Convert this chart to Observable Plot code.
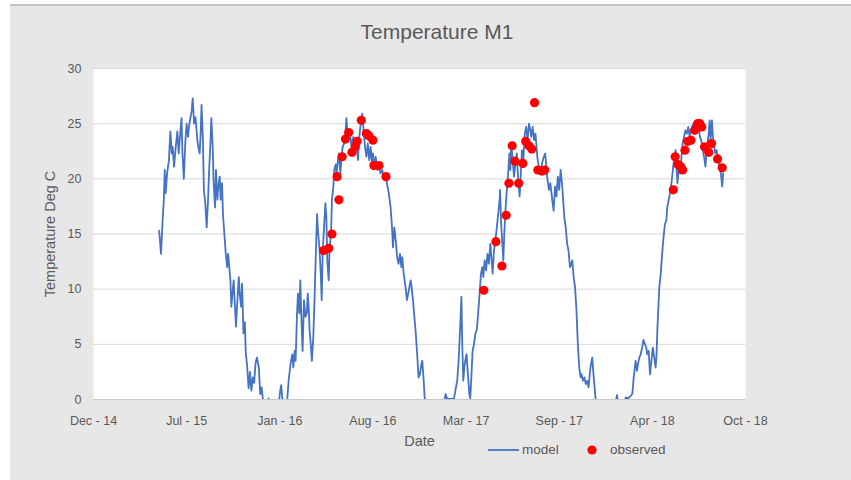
<!DOCTYPE html>
<html>
<head>
<meta charset="utf-8">
<script src="https://cdn.jsdelivr.net/npm/d3@7"></script>
<script src="https://cdn.jsdelivr.net/npm/@observablehq/plot@0.6"></script>
<style>
  body { margin: 0; background: #ffffff; font-family: "Liberation Sans", Arial, sans-serif; }
  #wrap { position: relative; width: 851px; height: 480px; overflow: hidden; }
  #panel { position: absolute; left: 10px; top: 4px; right: 0; bottom: 0; background: #e7e7e7; border-top: 2px solid #c4c4c4; }
  #chart { position: absolute; left: 0; top: 0; }
  #title { position: absolute; left: 0; width: 874px; top: 20px; text-align: center; font-size: 21px; color: #595959; }
  .leg { position: absolute; font-size: 13.5px; color: #595959; line-height: 16px; }
</style>
</head>
<body>
<div id="wrap">
  <div id="panel"></div>
  <div id="chart"></div>
  <div id="title"></div>
  <div id="legend"></div>
</div>
<script>
// ---- text ----
const chartTitle = "Temperature M1";
const yAxisTitle = "Temperature Deg C";
const xAxisTitle = "Date";
const seriesNames = ["model", "observed"];

// ---- axis ticks (dates as Excel day serials) ----
const xTickSerials = [42000, 42200, 42400, 42600, 42800, 43000, 43200, 43400];
const xTickLabels = ["Dec - 14", "Jul - 15", "Jan - 16", "Aug - 16", "Mar - 17", "Sep - 17", "Apr - 18", "Oct - 18"];
const yTicks = [0, 5, 10, 15, 20, 25, 30];

// ---- model series (date as Excel day serial, temperature in deg C) ----
const modelSerial = [
  42141, 42145, 42148, 42151, 42153, 42155, 42158, 42162, 42165, 42168, 42170, 42173, 42176, 42180, 42183, 42185,
  42189, 42191, 42194, 42197, 42200, 42203, 42205, 42208, 42211, 42213, 42216, 42219, 42223, 42225, 42228, 42230,
  42232, 42235, 42237, 42240, 42243, 42246, 42248, 42251, 42253, 42256, 42258, 42261, 42263, 42266, 42268, 42271,
  42273, 42276, 42278, 42281, 42284, 42287, 42289, 42291, 42294, 42296, 42299, 42301, 42303, 42306, 42309, 42312,
  42314, 42317, 42319, 42322, 42325, 42327, 42330, 42333, 42336, 42339, 42342, 42345, 42348, 42351, 42355, 42358,
  42361, 42364, 42368, 42373, 42376, 42380, 42391, 42398, 42401, 42403, 42405, 42408, 42412, 42416, 42419, 42423,
  42427, 42429, 42432, 42434, 42437, 42439, 42442, 42444, 42447, 42449, 42452, 42455, 42458, 42460, 42462, 42464,
  42467, 42469, 42472, 42475, 42478, 42480, 42482, 42485, 42488, 42490, 42492, 42495, 42498, 42500, 42502, 42505,
  42507, 42510, 42512, 42515, 42517, 42520, 42522, 42525, 42527, 42530, 42532, 42535, 42538, 42541, 42543, 42546,
  42550, 42554, 42558, 42560, 42564, 42568, 42570, 42573, 42577, 42580, 42583, 42586, 42589, 42592, 42595, 42598,
  42600, 42603, 42606, 42609, 42613, 42616, 42620, 42623, 42627, 42630, 42634, 42638, 42641, 42643, 42646, 42649,
  42652, 42655, 42658, 42661, 42663, 42666, 42670, 42673, 42677, 42681, 42683, 42686, 42689, 42692, 42695, 42698,
  42701, 42704, 42706, 42709, 42711, 42714, 42722, 42740, 42752, 42756, 42759, 42762, 42767, 42774, 42777, 42781,
  42784, 42788, 42790, 42792, 42794, 42797, 42801, 42804, 42807, 42809, 42812, 42814, 42817, 42820, 42823, 42826,
  42829, 42832, 42835, 42837, 42840, 42843, 42846, 42849, 42852, 42855, 42857, 42860, 42863, 42866, 42869, 42872,
  42873, 42875, 42877, 42880, 42882, 42885, 42887, 42890, 42893, 42895, 42897, 42900, 42903, 42906, 42909, 42912,
  42915, 42918, 42920, 42923, 42926, 42929, 42932, 42935, 42938, 42940, 42943, 42946, 42949, 42953, 42956, 42960,
  42963, 42967, 42970, 42974, 42978, 42981, 42985, 42988, 42991, 42994, 42997, 43000, 43003, 43006, 43008, 43011,
  43014, 43017, 43020, 43023, 43026, 43028, 43031, 43034, 43037, 43040, 43043, 43046, 43048, 43051, 43054, 43057,
  43060, 43063, 43067, 43071, 43073, 43076, 43079, 43090, 43118, 43124, 43128, 43140, 43143, 43147, 43151, 43157,
  43160, 43164, 43167, 43169, 43172, 43175, 43178, 43181, 43184, 43187, 43189, 43192, 43195, 43198, 43201, 43204,
  43207, 43209, 43211, 43213, 43215, 43218, 43221, 43224, 43227, 43230, 43232, 43235, 43238, 43241, 43244, 43247,
  43250, 43252, 43254, 43257, 43260, 43262, 43265, 43268, 43271, 43274, 43277, 43280, 43282, 43285, 43288, 43291,
  43294, 43297, 43300, 43302, 43305, 43308, 43311, 43314, 43316, 43318, 43321, 43323, 43325, 43328, 43330, 43333,
  43335, 43338, 43341, 43344, 43347, 43350, 43352
];
const modelTemp = [
  15.3, 13.2, 15.9, 18.1, 20.8, 18.7, 20.5, 21.7, 24.3, 22.3, 22.9, 21.1, 22.6, 24.3, 22.3, 23.5,
  25.5, 22.3, 20.0, 23.2, 25.0, 23.8, 24.7, 25.5, 26.2, 27.3, 25.0, 25.6, 23.5, 22.9, 22.3, 24.0,
  26.7, 23.5, 19.0, 17.8, 15.6, 18.1, 20.5, 23.2, 25.5, 22.9, 19.6, 17.4, 20.8, 18.1, 19.3, 20.2,
  18.1, 19.6, 16.8, 15.0, 13.2, 12.0, 13.2, 12.3, 10.8, 8.4, 9.9, 10.8, 9.0, 6.6, 9.0, 11.1,
  9.6, 8.4, 10.5, 6.0, 7.0, 4.2, 3.0, 1.0, 2.5, 0.8, 2.0, 1.5, 3.3, 3.8, 2.9, 0.5,
  1.1, -0.1, -1.0, -0.5, 0.1, -1.0, -1.5, -0.3, 0.8, 1.3, 0.3, -1.0, -0.5, 0.0, 1.7, 3.2,
  4.1, 2.9, 4.4, 3.5, 7.8, 9.6, 7.8, 10.8, 6.6, 4.4, 9.0, 7.5, 7.8, 9.6, 8.4, 6.3,
  4.7, 3.5, 5.7, 9.6, 14.1, 16.8, 15.3, 13.8, 11.4, 9.0, 13.2, 15.6, 17.8, 16.5, 12.6, 10.8,
  13.8, 15.0, 18.1, 19.3, 20.8, 21.3, 20.5, 21.7, 22.3, 20.5, 21.7, 22.9, 23.2, 24.1, 25.5, 23.8,
  24.4, 22.9, 23.8, 22.6, 23.5, 21.7, 23.5, 24.7, 25.9, 24.4, 22.9, 22.0, 23.2, 21.7, 22.9, 21.4,
  22.3, 21.1, 22.0, 20.8, 21.4, 20.5, 20.8, 20.2, 20.5, 19.6, 18.7, 17.4, 15.6, 13.8, 15.6, 14.4,
  12.9, 12.3, 13.2, 12.0, 12.9, 11.4, 10.2, 9.0, 9.9, 10.8, 10.2, 9.0, 7.5, 6.0, 4.1, 2.0,
  2.3, 3.2, 3.5, 1.7, 0.2, -0.4, -1.5, -1.0, -0.5, 0.5, 0.1, 0.05, 0.05, 0.05, 0.8, 1.7,
  3.5, 7.2, 9.3, 4.7, 1.7, 3.2, 4.1, 2.3, 0.5, 0.1, 2.6, 4.4, 5.0, 6.0, 6.3, 7.8,
  9.6, 11.4, 12.0, 11.1, 12.6, 11.7, 13.2, 12.3, 14.1, 12.6, 11.4, 13.5, 14.4, 15.6, 16.8, 18.1,
  19.0, 16.2, 14.7, 12.6, 15.0, 17.4, 18.7, 20.2, 22.3, 20.8, 23.2, 21.7, 20.2, 21.4, 22.3, 19.9,
  18.4, 20.8, 22.6, 21.7, 24.1, 24.7, 23.5, 25.0, 24.4, 23.8, 24.7, 23.5, 24.1, 22.0, 21.1, 20.5,
  21.4, 22.0, 22.3, 20.2, 19.0, 19.6, 18.1, 17.1, 19.3, 18.4, 20.2, 19.0, 20.8, 19.6, 18.4, 16.5,
  15.6, 14.1, 13.5, 12.0, 12.3, 12.6, 11.1, 10.2, 8.1, 5.0, 2.9, 2.0, 2.3, 1.7, 2.0, 1.4,
  1.7, 1.1, 2.9, 3.8, 2.6, 1.1, -0.4, -1.5, -1.0, 0.4, -0.5, -0.3, 0.2, 0.1, 0.2, 0.5,
  2.0, 3.5, 2.6, 3.2, 3.8, 4.1, 4.7, 5.4, 5.0, 4.7, 4.1, 4.4, 2.3, 3.5, 4.7, 3.8,
  2.9, 4.1, 6.6, 8.4, 10.2, 11.4, 13.2, 14.7, 15.9, 16.2, 17.4, 18.1, 18.7, 19.6, 20.8, 22.0,
  22.6, 20.8, 19.6, 21.1, 20.5, 21.7, 23.2, 23.8, 24.4, 24.1, 24.7, 23.8, 24.4, 24.7, 25.0, 24.4,
  24.7, 25.0, 24.7, 23.8, 23.5, 22.6, 22.0, 21.1, 22.3, 23.2, 24.1, 25.3, 23.5, 25.3, 23.8, 22.9,
  22.3, 22.6, 21.7, 21.1, 20.5, 19.3, 20.5
];

// ---- observed series ----
const observedSerial = [
  42494, 42505, 42512, 42523, 42527, 42534, 42541, 42548, 42555, 42562, 42566, 42575, 42586, 42591, 42600, 42602,
  42613, 42628,
  42838, 42864, 42877, 42886, 42892, 42899, 42905, 42913, 42922, 42928, 42935, 42941, 42947, 42954, 42963, 42969,
  43245, 43249, 43255, 43261, 43265, 43270, 43276, 43283, 43291, 43297, 43302, 43306, 43312, 43321, 43327, 43340,
  43350
];
const observedTemp = [
  13.5, 13.7, 15.0, 20.2, 18.1, 22.0, 23.6, 24.2, 22.4, 22.9, 23.4, 25.3, 24.1, 23.9, 23.5, 21.2,
  21.2, 20.2,
  9.9, 14.3, 12.1, 16.7, 19.6, 23.0, 21.6, 19.6, 21.4, 23.4, 23.0, 22.7, 26.9, 20.8, 20.7, 20.8,
  19.0, 22.0, 21.3, 21.1, 20.8, 22.6, 23.4, 23.5, 24.4, 25.0, 25.0, 24.7, 22.9, 22.4, 23.2, 21.8,
  21.0
];

// ---- colours ----
const modelColor = "#4472C4";
const observedColor = "#FF0000";
const textColor = "#595959";

// Excel day serial -> Date
const toDate = s => new Date(Date.UTC(1899, 11, 30) + s * 864e5);

const model = modelSerial.map((s, i) => ({date: toDate(s), temp: modelTemp[i]}));
const observed = observedSerial.map((s, i) => ({date: toDate(s), temp: observedTemp[i]}));
const labelByTime = new Map(xTickSerials.map((s, i) => [+toDate(s), xTickLabels[i]]));

const fontFamily = "'Liberation Sans', Arial, sans-serif";

const chart = Plot.plot({
  width: 851,
  height: 480,
  marginLeft: 93,
  marginRight: 106,
  marginTop: 68,
  marginBottom: 81,
  style: {background: "transparent", fontFamily, fontSize: "12.5px", color: textColor, overflow: "visible"},
  x: {type: "utc", domain: [toDate(xTickSerials[0]), toDate(xTickSerials[xTickSerials.length - 1])]},
  y: {domain: [yTicks[0], yTicks[yTicks.length - 1]]},
  marks: [
    Plot.frame({fill: "white", stroke: null}),
    Plot.ruleY(yTicks.filter(d => d > 0), {stroke: "#d9d9d9", strokeWidth: 1}),
    Plot.ruleY([0], {stroke: "#c8c8c8", strokeWidth: 1}),
    Plot.axisX({ticks: xTickSerials.map(toDate), tickSize: 0, tickPadding: 17, tickFormat: d => labelByTime.get(+d), label: null, fill: textColor}),
    Plot.axisY({ticks: yTicks, tickSize: 0, tickPadding: 12, label: null, fill: textColor}),
    Plot.line(model, {x: "date", y: "temp", stroke: modelColor, strokeWidth: 1.8, strokeLinejoin: "round", clip: true}),
    Plot.dot(observed, {x: "date", y: "temp", r: 4.6, fill: observedColor, stroke: null}),
    Plot.text([yAxisTitle], {frameAnchor: "left", dx: -43, rotate: -90, textAnchor: "middle", lineAnchor: "middle", fontSize: 14.5, fill: textColor}),
    Plot.text([xAxisTitle], {frameAnchor: "bottom", dy: 42, textAnchor: "middle", lineAnchor: "middle", fontSize: 14.5, fill: textColor})
  ]
});
document.getElementById("chart").appendChild(chart);
document.getElementById("title").textContent = chartTitle;

// legend
const legend = document.getElementById("legend");
legend.innerHTML = `
  <svg class="leg" style="left:488px;top:442px" width="31" height="16"><line x1="0" x2="31" y1="8" y2="8" stroke="${modelColor}" stroke-width="1.8"/></svg>
  <div class="leg" style="left:522px;top:442px">${seriesNames[0]}</div>
  <svg class="leg" style="left:586px;top:442px" width="12" height="16"><circle cx="6" cy="8" r="4.6" fill="${observedColor}"/></svg>
  <div class="leg" style="left:610px;top:442px">${seriesNames[1]}</div>`;
</script>
</body>
</html>
